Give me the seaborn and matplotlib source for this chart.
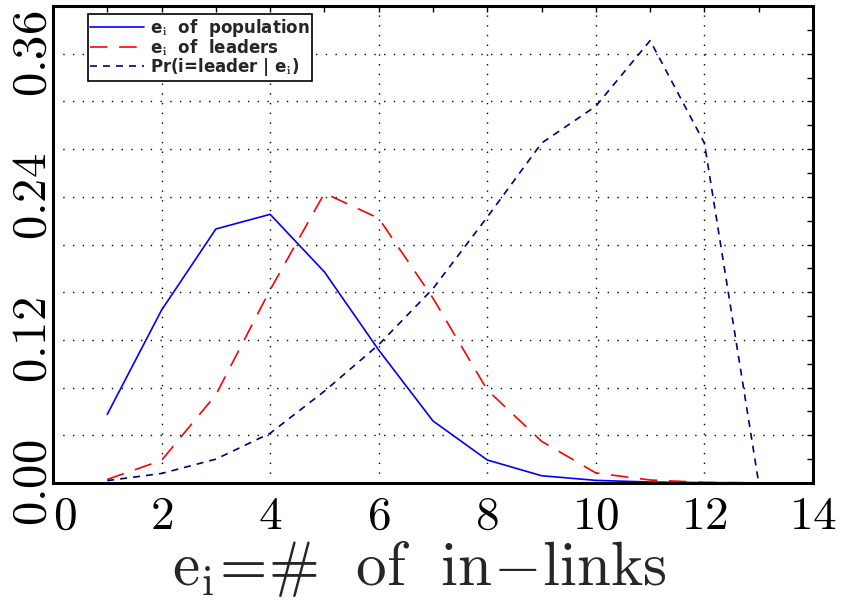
import numpy as np
import pandas as pd
import matplotlib
matplotlib.use("Agg")
import matplotlib.pyplot as plt
import matplotlib.transforms as mtransforms
import seaborn as sns

# values
ei = [1, 2, 3, 4, 5, 6, 7, 8, 9, 10, 11, 12, 13]
pop = [0.0576, 0.145, 0.213, 0.2253, 0.177, 0.1115, 0.052, 0.0193, 0.0061, 0.0022, 0.0008, 0.0003, 0.0001]
leaders = [0.003, 0.019, 0.074, 0.162, 0.243, 0.222, 0.155, 0.078, 0.035, 0.0084, 0.0025, 0.0005, 0.0001]
pr_leader = [0.002, 0.008, 0.020, 0.0417, 0.077, 0.116, 0.163, 0.223, 0.285, 0.316, 0.371, 0.285, 0.0]

labels = [r"e$_\mathbf{i}$  of  population", r"e$_\mathbf{i}$  of  leaders",
          r"Pr(i=leader | e$_\mathbf{i}$)"]
xticks = [0, 2, 4, 6, 8, 10, 12, 14]
yticks = [0.00, 0.04, 0.08, 0.12, 0.16, 0.20, 0.24, 0.28, 0.32, 0.36]
ytick_labels = ["0.00", "", "", "0.12", "", "", "0.24", "", "", "0.36"]

sns.set_style("white")
plt.rcParams["mathtext.fontset"] = "cm"
plt.rcParams["font.family"] = ["DejaVu Sans"]

fig = plt.figure(figsize=(8.41, 6.05), dpi=100)
ax = fig.add_axes([53 / 841, 1 - 483 / 605, 760 / 841, 477 / 605])

sns.lineplot(x=ei, y=pop, ax=ax, color="#0000ff", lw=1.2, label=labels[0])
sns.lineplot(x=ei, y=leaders, ax=ax, color="#ff0000", lw=1.2,
             linestyle=(0, (10.5, 7)), label=labels[1])
sns.lineplot(x=ei, y=pr_leader, ax=ax, color="#000080", lw=1.2,
             linestyle=(0, (4.2, 3.6)), label=labels[2])

ax.set_xlim(0, 14)
ax.set_ylim(0, 0.4)
ax.set_xticks(xticks)
ax.set_xticks(np.arange(1, 14, 2), minor=True)
ax.set_yticks(yticks)
ax.set_yticks(np.arange(0.02, 0.4, 0.04), minor=True)
ax.set_xticklabels(["$%d$" % t for t in xticks], fontsize=34)
ax.set_yticklabels(["$%s$" % s if s else "" for s in ytick_labels],
                   fontsize=35, rotation=90, va="center", ha="center")
# first x label sits a bit to the right, like the reference
lab0 = ax.get_xticklabels()[0]
lab0.set_ha("left")
lab0.set_transform(lab0.get_transform()
                   + mtransforms.ScaledTranslation(3 / 100, 0, fig.dpi_scale_trans))

ax.tick_params(which="both", direction="in", length=4, width=1,
               top=True, right=True, colors="black")
ax.tick_params(axis="x", pad=8)
ax.tick_params(axis="y", pad=15)
ax.grid(True, which="major", color="black", lw=1.0, linestyle=(0, (1, 6)))
for s in ax.spines.values():
    s.set_linewidth(2.2)
    s.set_color("black")

ax.set_xlabel(r"$\mathrm{e_i\!=\!\#\ \ of\ \ in\!-\!links}$", fontsize=44,
              labelpad=0, x=0.482)
ax.set_ylabel("")

leg = ax.legend(loc="upper left", bbox_to_anchor=(0.046, 0.983), borderaxespad=0,
                fancybox=False, framealpha=1, edgecolor="black", handlelength=3.2,
                prop={"weight": "bold", "size": 12}, labelspacing=-0.1,
                borderpad=0.15, handletextpad=0.35)
leg.get_frame().set_linewidth(1.2)

fig.savefig("out.png", dpi=100)
